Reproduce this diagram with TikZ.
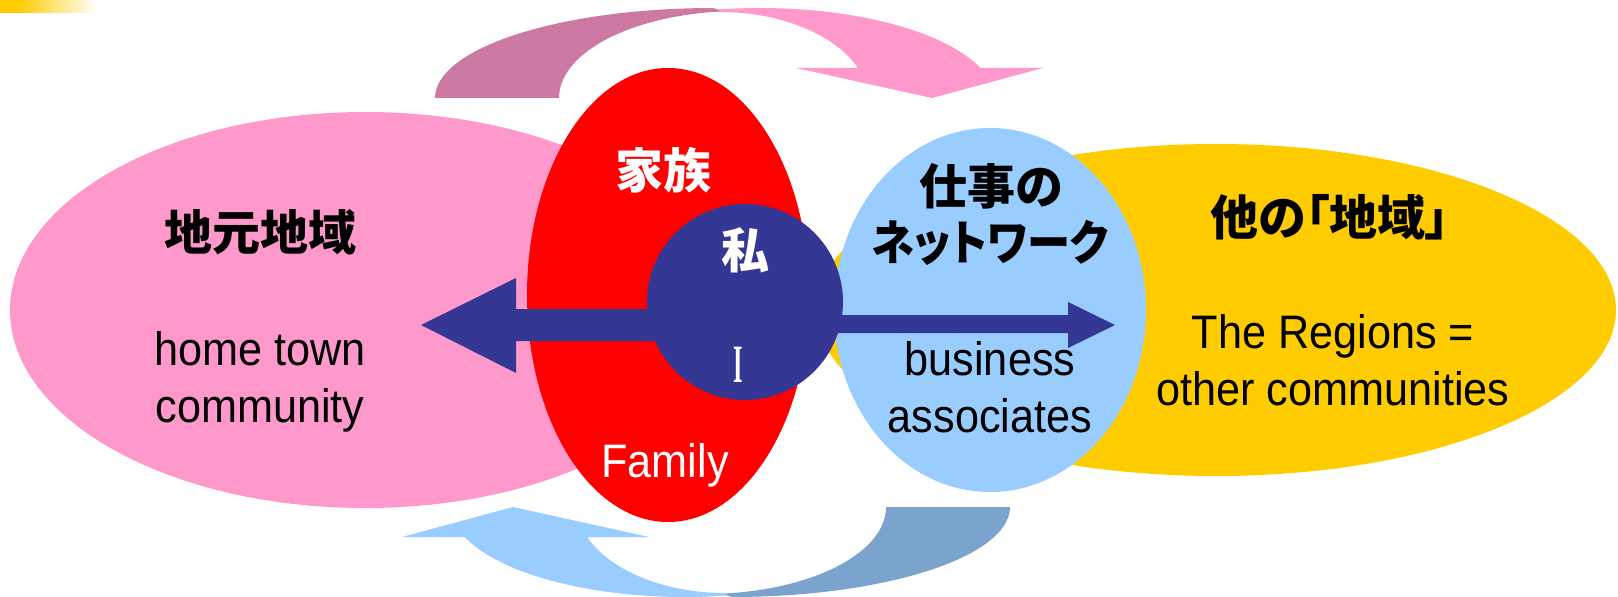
\documentclass[tikz,border=0pt]{standalone}
\usepackage{fontspec}
\setmainfont{Liberation Sans}
\newfontfamily\enfont[FakeStretch=0.92]{Liberation Sans}
\newfontfamily\jpfont[RawFeature=+palt]{Noto Sans CJK JP}
\newfontfamily\ifont{Liberation Serif}
\definecolor{pinkA}{HTML}{FF99CC}
\definecolor{pinkDark}{HTML}{CC7AA3}
\definecolor{blueA}{HTML}{99CCFF}
\definecolor{blueDark}{HTML}{7AA4CD}
\definecolor{redA}{HTML}{FF0000}
\definecolor{yellowA}{HTML}{FFCC00}
\definecolor{meblue}{HTML}{353795}
\newcommand\curvedband[2]{%
  \fill[#1] plot[domain=180:90,samples=50] ({713+278*cos(\x)},{98-90*sin(\x)})
     -- plot[domain=95:180,samples=50] ({740+181*cos(\x)},{98-87*sin(\x)}) -- cycle;
  \fill[#2] plot[domain=100:20.6,samples=60] ({760+235*cos(\x)},{100-92*sin(\x)})
     -- (980,68) -- (1043,68) -- (932,98) -- (796,68) -- (857,68)
     -- plot[domain=24:90,samples=50] ({720+150*cos(\x)},{104-92*sin(\x)}) -- cycle;
}
\begin{document}
\begin{tikzpicture}[x=1bp,y=-1bp,
  entext/.style={font=\enfont\fontsize{47bp}{57bp}\selectfont, inner sep=0pt, anchor=base},
  jptext/.style={font=\jpfont\bfseries\fontsize{48bp}{57bp}\selectfont, inner sep=0pt, anchor=center},
  blockarrow/.style={fill=meblue}]
\useasboundingbox (0,0) rectangle (1618,597);
% corner bar
\fill[yellowA] (0,0) rectangle (18,13);
\shade[left color=yellowA, right color=white] (18,0) rectangle (97,13);
% curved arrows
\curvedband{pinkDark}{pinkA}
\begin{scope}[rotate around={180:(722.5,302.5)}]
  \curvedband{blueDark}{blueA}
\end{scope}
% ellipses
\fill[pinkA] (365,310) ellipse [x radius=355bp, y radius=198bp];
\fill[redA] (668,295) ellipse [x radius=141bp, y radius=227bp];
\fill[yellowA] (1216,310) ellipse [x radius=400bp, y radius=166bp];
\fill[blueA] (990,310) ellipse [x radius=156bp, y radius=182bp];
% block arrows
\fill[blockarrow] (700,309) -- (516,309) -- (516,278) -- (421,325) -- (516,373) -- (516,341) -- (700,341) -- cycle;
\fill[blockarrow] (790,315) -- (1068,315) -- (1068,302) -- (1115,325) -- (1068,348) -- (1068,333) -- (790,333) -- cycle;
% centre circle
\node[circle, fill=meblue, minimum size=196bp, inner sep=0pt] (me) at (745,302) {};
% texts
\node[jptext] (jimoto) at (260,232) {地元地域};
\node[entext] (home1) at (260,365) {home town};
\node[entext] (home2) at (260,422) {community};
\node[jptext, text=white] (kazoku) at (663,170) {家族};
\node[entext, text=white] (family) at (665,477) {Family};
\node[jptext, text=white] (watashi) at (745,250) {私};
\node[inner sep=0pt, anchor=base, text=white, font=\ifont\bfseries\fontsize{54bp}{60bp}\selectfont] (ione) at (738,382) {\scalebox{0.45}[1]{I}};
\node[jptext] (shigoto) at (991,186) {仕事の};
\node[jptext] (network) at (990,243) {\scalebox{0.9}[1]{ネットワーク}};
\node[entext] (bus1) at (990,375) {business};
\node[entext] (bus2) at (990,432) {associates};
\node[jptext] (hoka) at (1330,217) {他の「地域」};
\node[entext] (reg1) at (1333,348) {The Regions =};
\node[entext] (reg2) at (1333,405) {other communities};
\end{tikzpicture}
\end{document}
